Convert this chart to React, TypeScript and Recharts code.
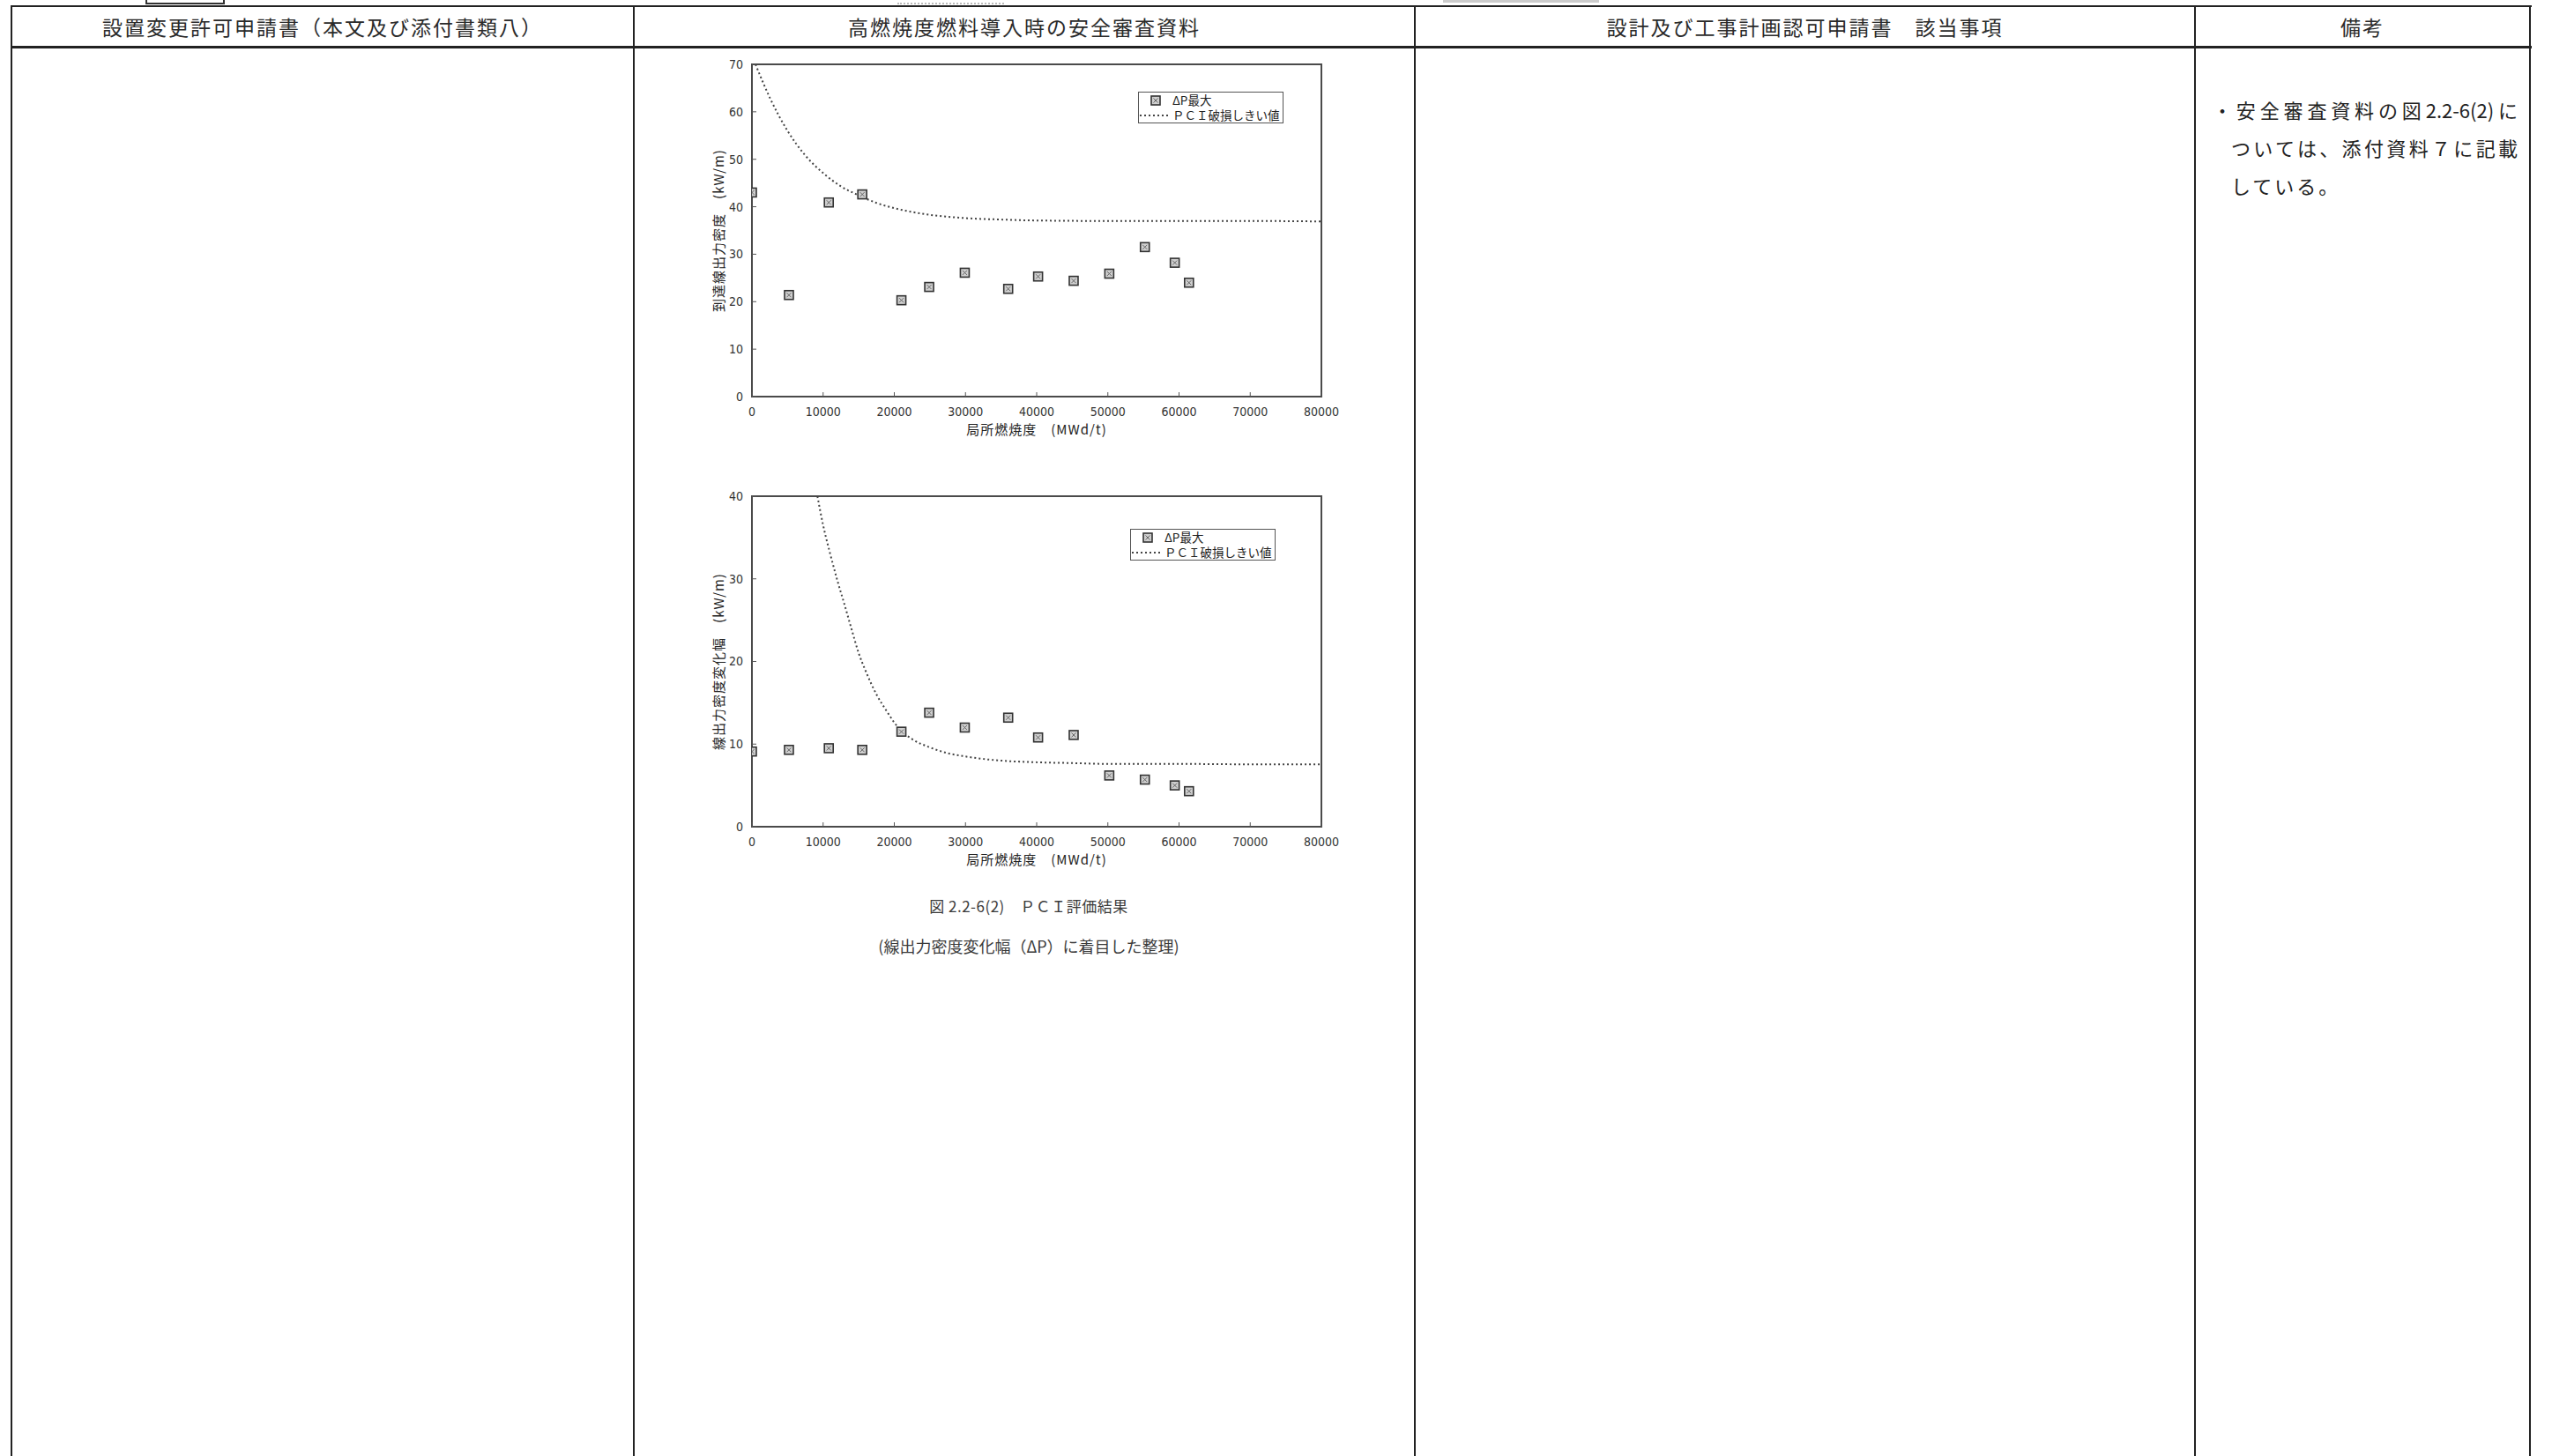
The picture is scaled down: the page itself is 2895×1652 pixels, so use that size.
import React from "react";
import { ComposedChart, Line, Scatter, XAxis, YAxis, ReferenceArea, Legend } from "recharts";

// burnup of each measured rod segment (MWd/t), shared by both panels
const BURNUP = [0, 5200, 10800, 15500, 21000, 24900, 29900, 36000, 40200, 45200, 50200, 55200, 59400, 61400];
const PEAK_POWER = [43.0, 21.4, 40.9, 42.6, 20.3, 23.1, 26.1, 22.7, 25.3, 24.4, 25.9, 31.5, 28.2, 24.0];
const DELTA_P = [9.1, 9.3, 9.5, 9.3, 11.5, 13.8, 12.0, 13.2, 10.8, 11.1, 6.2, 5.7, 5.0, 4.3];

// PCI failure threshold curves
const TOP_LIMIT_X = [500, 2500, 5000, 7500, 10000, 12500, 15000, 17500, 20000, 22500, 25000, 27500, 30000, 35000, 40000, 50000, 60000, 70000, 80000];
const TOP_LIMIT_Y = [70.0, 63.0, 56.0, 50.8, 47.1, 44.3, 42.4, 40.8, 39.7, 38.9, 38.3, 37.9, 37.6, 37.3, 37.1, 37.0, 37.0, 37.0, 36.9];
const BOTTOM_LIMIT_X = [9200, 10000, 11000, 12000, 13000, 14000, 15000, 16000, 17500, 19000, 20000, 21000, 22500, 25000, 27500, 30000, 32500, 35000, 40000, 45000, 50000, 60000, 70000, 80000];
const BOTTOM_LIMIT_Y = [40.0, 36.5, 33.0, 29.8, 26.9, 23.9, 21.0, 18.8, 16.0, 13.9, 12.6, 11.6, 10.6, 9.6, 8.9, 8.5, 8.2, 8.0, 7.8, 7.7, 7.6, 7.6, 7.55, 7.55];

const X_TICKS = [0, 10000, 20000, 30000, 40000, 50000, 60000, 70000, 80000];
const TOP_Y_TICKS = [0, 10, 20, 30, 40, 50, 60, 70];
const BOTTOM_Y_TICKS = [0, 10, 20, 30, 40];

const HEADERS = ["設置変更許可申請書（本文及び添付書類八）", "高燃焼度燃料導入時の安全審査資料", "設計及び工事計画認可申請書　該当事項", "備考"];
const REMARKS = ["・安全審査資料の図2.2-6(2)に", "ついては、添付資料７に記載", "している。"];
const X_TITLE = "局所燃焼度　(MWd/t)";
const SERIES_POINTS = "ΔP最大";
const SERIES_LIMIT = "ＰＣＩ破損しきい値";

const COLS = [13, 719, 1605, 2490, 2870];
const JP = '"Noto Sans CJK JP", "Noto Sans", sans-serif';
const NARROW = '"Liberation Sans Narrow", "Arial Narrow", "DejaVu Sans Condensed", "Liberation Sans", sans-serif';
const INK = "#3a3a3a";

const pairs = (xs: number[], ys: number[]) => xs.map((x, i) => ({ x, y: ys[i] }));

const SquareMarker = (props: any) => {
  const { cx, cy } = props;
  if (cx == null || cy == null) return null;
  return (
    <g>
      <rect x={cx - 5} y={cy - 5} width={10} height={10} fill="#cfcfcf" stroke="#333" strokeWidth={1.6} />
      <path d={`M${cx - 2.5},${cy - 2.5}L${cx + 2.5},${cy + 2.5}M${cx + 2.5},${cy - 2.5}L${cx - 2.5},${cy + 2.5}`} stroke="#666" strokeWidth={1} />
    </g>
  );
};

const LegendBox = () => (
  <div style={{ border: "1.5px solid #555", background: "#fff", width: 165, height: 36, fontFamily: JP, fontSize: 13.5, color: "#222", lineHeight: "17px", boxSizing: "border-box" }}>
    <div style={{ display: "flex", alignItems: "center", height: 17 }}>
      <svg width={38} height={17}><SquareMarker cx={19} cy={9} /></svg>
      <span>{SERIES_POINTS}</span>
    </div>
    <div style={{ display: "flex", alignItems: "center", height: 17 }}>
      <svg width={38} height={17}><line x1={1} x2={36} y1={9} y2={9} stroke="#444" strokeWidth={2} strokeDasharray="2 3" /></svg>
      <span>{SERIES_LIMIT}</span>
    </div>
  </div>
);

const yTitle = (text: string) => (props: any) => {
  const { viewBox } = props;
  const cx = 34;
  const cy = viewBox.y + viewBox.height / 2;
  return (
    <text x={cx} y={cy} transform={`rotate(-90 ${cx} ${cy})`} textAnchor="middle" dominantBaseline="central" fontFamily={JP} fontSize={15} letterSpacing={1} fill="#222">
      {text}
    </text>
  );
};

const xTitle = (props: any) => {
  const { viewBox } = props;
  return (
    <text x={viewBox.x + viewBox.width / 2} y={viewBox.y + 36} textAnchor="middle" dominantBaseline="central" fontFamily={JP} fontSize={15} letterSpacing={1} fill="#222">
      {X_TITLE}
    </text>
  );
};

interface PanelProps {
  top: number;
  height: number;
  yMax: number;
  yTicks: number[];
  values: number[];
  limitX: number[];
  limitY: number[];
  yLabel: string;
  legendLeft: number;
  legendTop: number;
}

function Panel({ top, height, yMax, yTicks, values, limitX, limitY, yLabel, legendLeft, legendTop }: PanelProps) {
  const tick = { fontFamily: NARROW, fontSize: 14, fill: "#333" };
  return (
    <div style={{ position: "absolute", left: 780, top }}>
      <ComposedChart width={760} height={height} margin={{ top: 13, right: 41, bottom: 15, left: 0 }}>
        <XAxis
          type="number"
          dataKey="x"
          domain={[0, 80000]}
          ticks={X_TICKS}
          interval={0}
          axisLine={false}
          tickSize={-5}
          tickMargin={17}
          tickLine={{ stroke: "#555" }}
          tick={tick}
          height={45}
          allowDataOverflow
          label={{ content: xTitle }}
        />
        <YAxis
          type="number"
          dataKey="y"
          domain={[0, yMax]}
          ticks={yTicks}
          interval={0}
          axisLine={false}
          tickSize={-5}
          tickMargin={15}
          tickLine={{ stroke: "#555" }}
          tick={tick}
          width={73}
          allowDataOverflow
          label={{ content: yTitle(yLabel) }}
        />
        <ReferenceArea x1={0} x2={80000} y1={0} y2={yMax} fill="none" stroke="#4a4a4a" strokeWidth={2} ifOverflow="visible" />
        <Line
          data={pairs(limitX, limitY)}
          dataKey="y"
          type="monotone"
          stroke="#444"
          strokeWidth={2}
          strokeDasharray="2 3"
          dot={false}
          activeDot={false}
          isAnimationActive={false}
        />
        <Scatter data={pairs(BURNUP, values)} dataKey="y" shape={SquareMarker} isAnimationActive={false} />
        <Legend
          layout="vertical"
          align="center"
          verticalAlign="middle"
          content={() => <LegendBox />}
          wrapperStyle={{ left: legendLeft, top: legendTop, width: 166, height: 37 }}
        />
      </ComposedChart>
    </div>
  );
}

export default function App() {
  return (
    <div style={{ position: "relative", width: 2895, height: 1652, background: "#fff", overflow: "hidden", fontFamily: JP, color: "#222" }}>
      <style>{"body{margin:0}"}</style>

      {/* scraps of the previous page cut at the top edge */}
      <div style={{ position: "absolute", left: 165, top: -10, width: 86, height: 11, border: "2px solid #333" }} />
      <div style={{ position: "absolute", left: 1018, top: 0, width: 121, height: 3, borderBottom: "2px dotted #bbb" }} />
      <div style={{ position: "absolute", left: 1637, top: 0, width: 177, height: 3, background: "#ccc" }} />

      {/* table rules */}
      <div style={{ position: "absolute", left: COLS[0], top: 6, width: COLS[4] - COLS[0] + 2, height: 2, background: "#222" }} />
      <div style={{ position: "absolute", left: COLS[0], top: 52, width: COLS[4] - COLS[0] + 2, height: 3, background: "#222" }} />
      {COLS.map((x) => (
        <div key={x} style={{ position: "absolute", left: x - 1, top: 6, width: 2, height: 1652, background: "#222" }} />
      ))}

      {HEADERS.map((h, i) => (
        <div
          key={h}
          style={{ position: "absolute", left: COLS[i], width: COLS[i + 1] - COLS[i], top: 8, height: 44, display: "flex", alignItems: "center", justifyContent: "center", fontSize: 23, letterSpacing: 2, color: "#2a2a2a" }}
        >
          {h}
        </div>
      ))}

      <Panel top={60} height={450} yMax={70} yTicks={TOP_Y_TICKS} values={PEAK_POWER} limitX={TOP_LIMIT_X} limitY={TOP_LIMIT_Y} yLabel="到達線出力密度　(kW/m)" legendLeft={511} legendTop={44} />
      <Panel top={550} height={448} yMax={40} yTicks={BOTTOM_Y_TICKS} values={DELTA_P} limitX={BOTTOM_LIMIT_X} limitY={BOTTOM_LIMIT_Y} yLabel="線出力密度変化幅　(kW/m)" legendLeft={502} legendTop={50} />

      <div style={{ position: "absolute", left: 967, width: 400, top: 1015, textAlign: "center", fontSize: 17, letterSpacing: 0.5, color: INK }}>図 2.2-6(2)　ＰＣＩ評価結果</div>
      <div style={{ position: "absolute", left: 917, width: 500, top: 1060, textAlign: "center", fontSize: 18, color: INK }}>(線出力密度変化幅（ΔP）に着目した整理)</div>

      {REMARKS.map((r, i) => (
        <div
          key={r}
          style={{
            position: "absolute",
            left: i === 0 ? 2510 : 2531,
            width: i === 2 ? 200 : i === 0 ? 346 : 325,
            top: 109 + i * 43,
            fontSize: 22,
            lineHeight: "30px",
            textAlign: i === 2 ? "left" : "justify",
            textAlignLast: i === 2 ? "left" : "justify",
            letterSpacing: i === 2 ? 3 : 0,
            whiteSpace: "nowrap",
            color: "#222",
          } as React.CSSProperties}
        >
          {r}
        </div>
      ))}
    </div>
  );
}
